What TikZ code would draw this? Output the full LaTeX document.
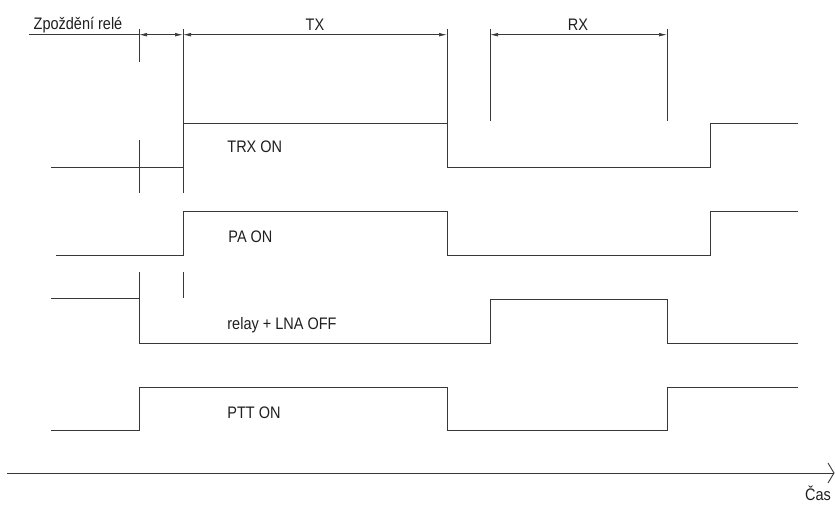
\documentclass[tikz,border=0pt]{standalone}
\usepackage{fontspec}
\setmainfont{Liberation Sans}
\usetikzlibrary{arrows.meta}

\newcommand{\tall}[1]{\scalebox{1}[1.15]{#1}}

\begin{document}
\begin{tikzpicture}[x=1pt, y=-1pt, line width=0.8pt, draw=black!78,
    font=\fontsize{14.5}{17}\selectfont,
    dim/.style={{Latex[length=8pt,width=3.6pt]}-{Latex[length=8pt,width=3.6pt]}, line width=0.7pt},
    lbl/.style={anchor=base west, inner sep=0pt, text=black!88},
    dimlbl/.style={anchor=base, inner sep=0pt, text=black!88}]

\useasboundingbox (0,0) rectangle (835,505);

% Kotovaci cary
\draw (139,29) -- (139,62);
\draw (139,140) -- (139,193);
\draw (183,29) -- (183,193);
\draw (183,272) -- (183,298);
\draw (447,29) -- (447,123);
\draw (490,29) -- (490,121);
\draw (667,29) -- (667,121);

% Koty
\coordinate (d0) at (29,34.7);
\coordinate (d1) at (139,34.7);
\coordinate (d2) at (183,34.7);
\coordinate (d3) at (447,34.7);
\coordinate (d4) at (490,34.7);
\coordinate (d5) at (667,34.7);

\draw[line width=0.7pt] (d0) -- (d1);
\draw[dim] (d1) -- (d2);
\draw[dim] (d2) -- (d3);
\draw[dim] (d4) -- (d5);

\node[dimlbl] (delay) at (78,29.5) {\tall{Zpoždění relé}};
\node[dimlbl] (tx) at (315,31) {\tall{TX}};
\node[dimlbl] (rx) at (578,31) {\tall{RX}};

% TRX ON
\draw (51,167) -- (183,167) -- (183,123) -- (447,123) -- (447,167) -- (710,167) -- (710,123) -- (798,123);
\node[lbl] (trxon) at (227,153) {\tall{TRX ON}};

% PA ON
\draw (56,255) -- (183,255) -- (183,211) -- (447,211) -- (447,255) -- (710,255) -- (710,211) -- (798,211);
\node[lbl] (paon) at (228,243) {\tall{PA ON}};

% relay + LNA OFF
\draw (139,272) -- (139,298);
\draw (51,298) -- (139,298) -- (139,343) -- (490,343) -- (490,299) -- (667,299) -- (667,343) -- (798,343);
\node[lbl] (relayoff) at (227,329) {\tall{relay + LNA OFF}};

% PTT ON
\draw (51,430) -- (139,430) -- (139,387) -- (447,387) -- (447,430) -- (667,430) -- (667,387) -- (798,387);
\node[lbl] (ptton) at (227,418) {\tall{PTT ON}};

% Casova osa
\coordinate (osa0) at (7,473);
\coordinate (osa1) at (834.5,473);
\draw[-{Straight Barb[length=6pt,width=20pt]}, line width=0.9pt] (osa0) -- (osa1);
\node[dimlbl] (cas) at (818,500) {\tall{Čas}};

\end{tikzpicture}
\end{document}
